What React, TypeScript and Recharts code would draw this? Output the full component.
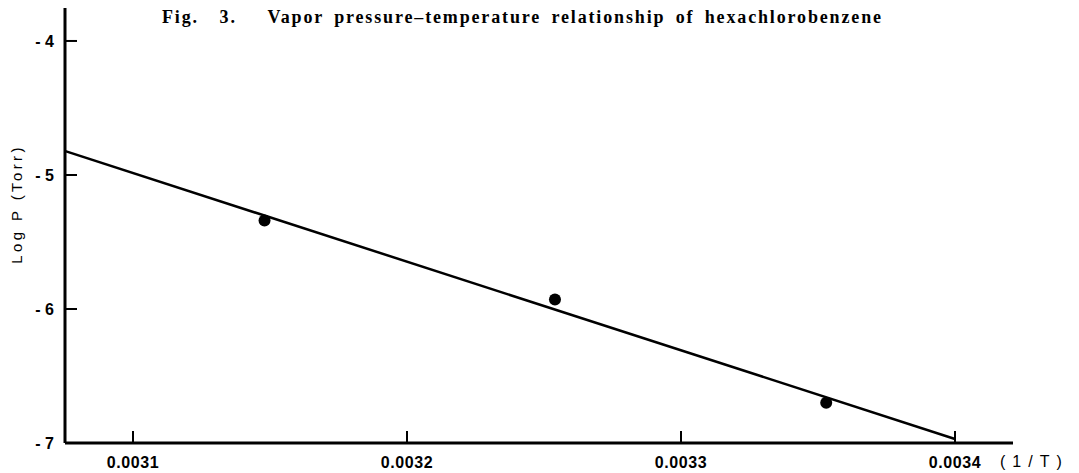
import React from 'react';
import { ScatterChart, Scatter, XAxis, YAxis } from 'recharts';

// measured points (1/T, log P)
const measured = [
  { x: 0.003148, y: -5.34 },
  { x: 0.003254, y: -5.93 },
  { x: 0.003353, y: -6.7 },
];

// regression line end points as drawn
const fitLine = [
  { x: 0.003075, y: -4.82 },
  { x: 0.0034, y: -6.97 },
];

const xTicks = [0.0031, 0.0032, 0.0033, 0.0034];
const yTicks = [-7, -6, -5, -4];

const labelFont = '"Liberation Sans", Arial, sans-serif';

const XTick = (props: any) => (
  <text
    x={props.x}
    y={Number(props.y) + 15}
    textAnchor="middle"
    fontFamily={labelFont}
    fontSize={16}
    fontWeight={700}
    letterSpacing={0.6}
    fill="#000"
  >
    {props.payload.value.toFixed(4)}
  </text>
);

const YTick = (props: any) => (
  <text
    x={Number(props.x) - 1}
    y={Number(props.y) + 6}
    textAnchor="end"
    fontFamily={labelFont}
    fontSize={16}
    fontWeight={700}
    fill="#000"
  >
    {'- ' + Math.abs(props.payload.value)}
  </text>
);

export default function App() {
  return (
    <div style={{ position: 'absolute', left: 0, top: 0, width: 1079, height: 473, background: '#fff' }}>
      <div
        style={{
          position: 'absolute',
          left: 162,
          top: 7,
          fontFamily: '"Liberation Serif", "DejaVu Serif", serif',
          fontWeight: 700,
          fontSize: 18,
          letterSpacing: 1.85,
          wordSpacing: 4,
          whiteSpace: 'pre',
        }}
      >
        {'Fig.  3.   Vapor pressure–temperature relationship of hexachlorobenzene'}
      </div>
      <div
        style={{
          position: 'absolute',
          left: -53,
          top: 194,
          width: 140,
          height: 20,
          lineHeight: '20px',
          textAlign: 'center',
          transform: 'rotate(-90deg)',
          fontFamily: labelFont,
          fontSize: 15,
          letterSpacing: 3.4,
        }}
      >
        Log P (Torr)
      </div>
      <ScatterChart width={1079} height={473} margin={{ top: 8, right: 66, bottom: 0, left: 0 }}>
        <XAxis
          type="number"
          dataKey="x"
          domain={[0.00307518, 0.00342117]}
          ticks={xTicks}
          allowDataOverflow
          height={30}
          tickLine={{ stroke: '#000', strokeWidth: 2 }}
          tickSize={-12}
          tickMargin={22}
          tick={<XTick />}
          axisLine={{ stroke: '#000', strokeWidth: 3 }}
        />
        <YAxis
          type="number"
          dataKey="y"
          domain={[-7, -3.754]}
          ticks={yTicks}
          allowDataOverflow
          width={65}
          tickLine={{ stroke: '#000', strokeWidth: 2 }}
          tickSize={-12}
          tickMargin={22}
          tick={<YTick />}
          axisLine={{ stroke: '#000', strokeWidth: 3 }}
        />
        <Scatter
          data={fitLine}
          line={{ stroke: '#000', strokeWidth: 2.5 }}
          shape={() => null}
          isAnimationActive={false}
        />
        <Scatter
          data={measured}
          fill="#000"
          shape={(p: any) => <circle cx={p.cx} cy={p.cy} r={6} fill="#000" />}
          isAnimationActive={false}
        />
      </ScatterChart>
      <div
        style={{
          position: 'absolute',
          left: 1000,
          top: 453,
          fontFamily: labelFont,
          fontSize: 16,
          letterSpacing: 7,
        }}
      >
        (1/T)
      </div>
    </div>
  );
}
